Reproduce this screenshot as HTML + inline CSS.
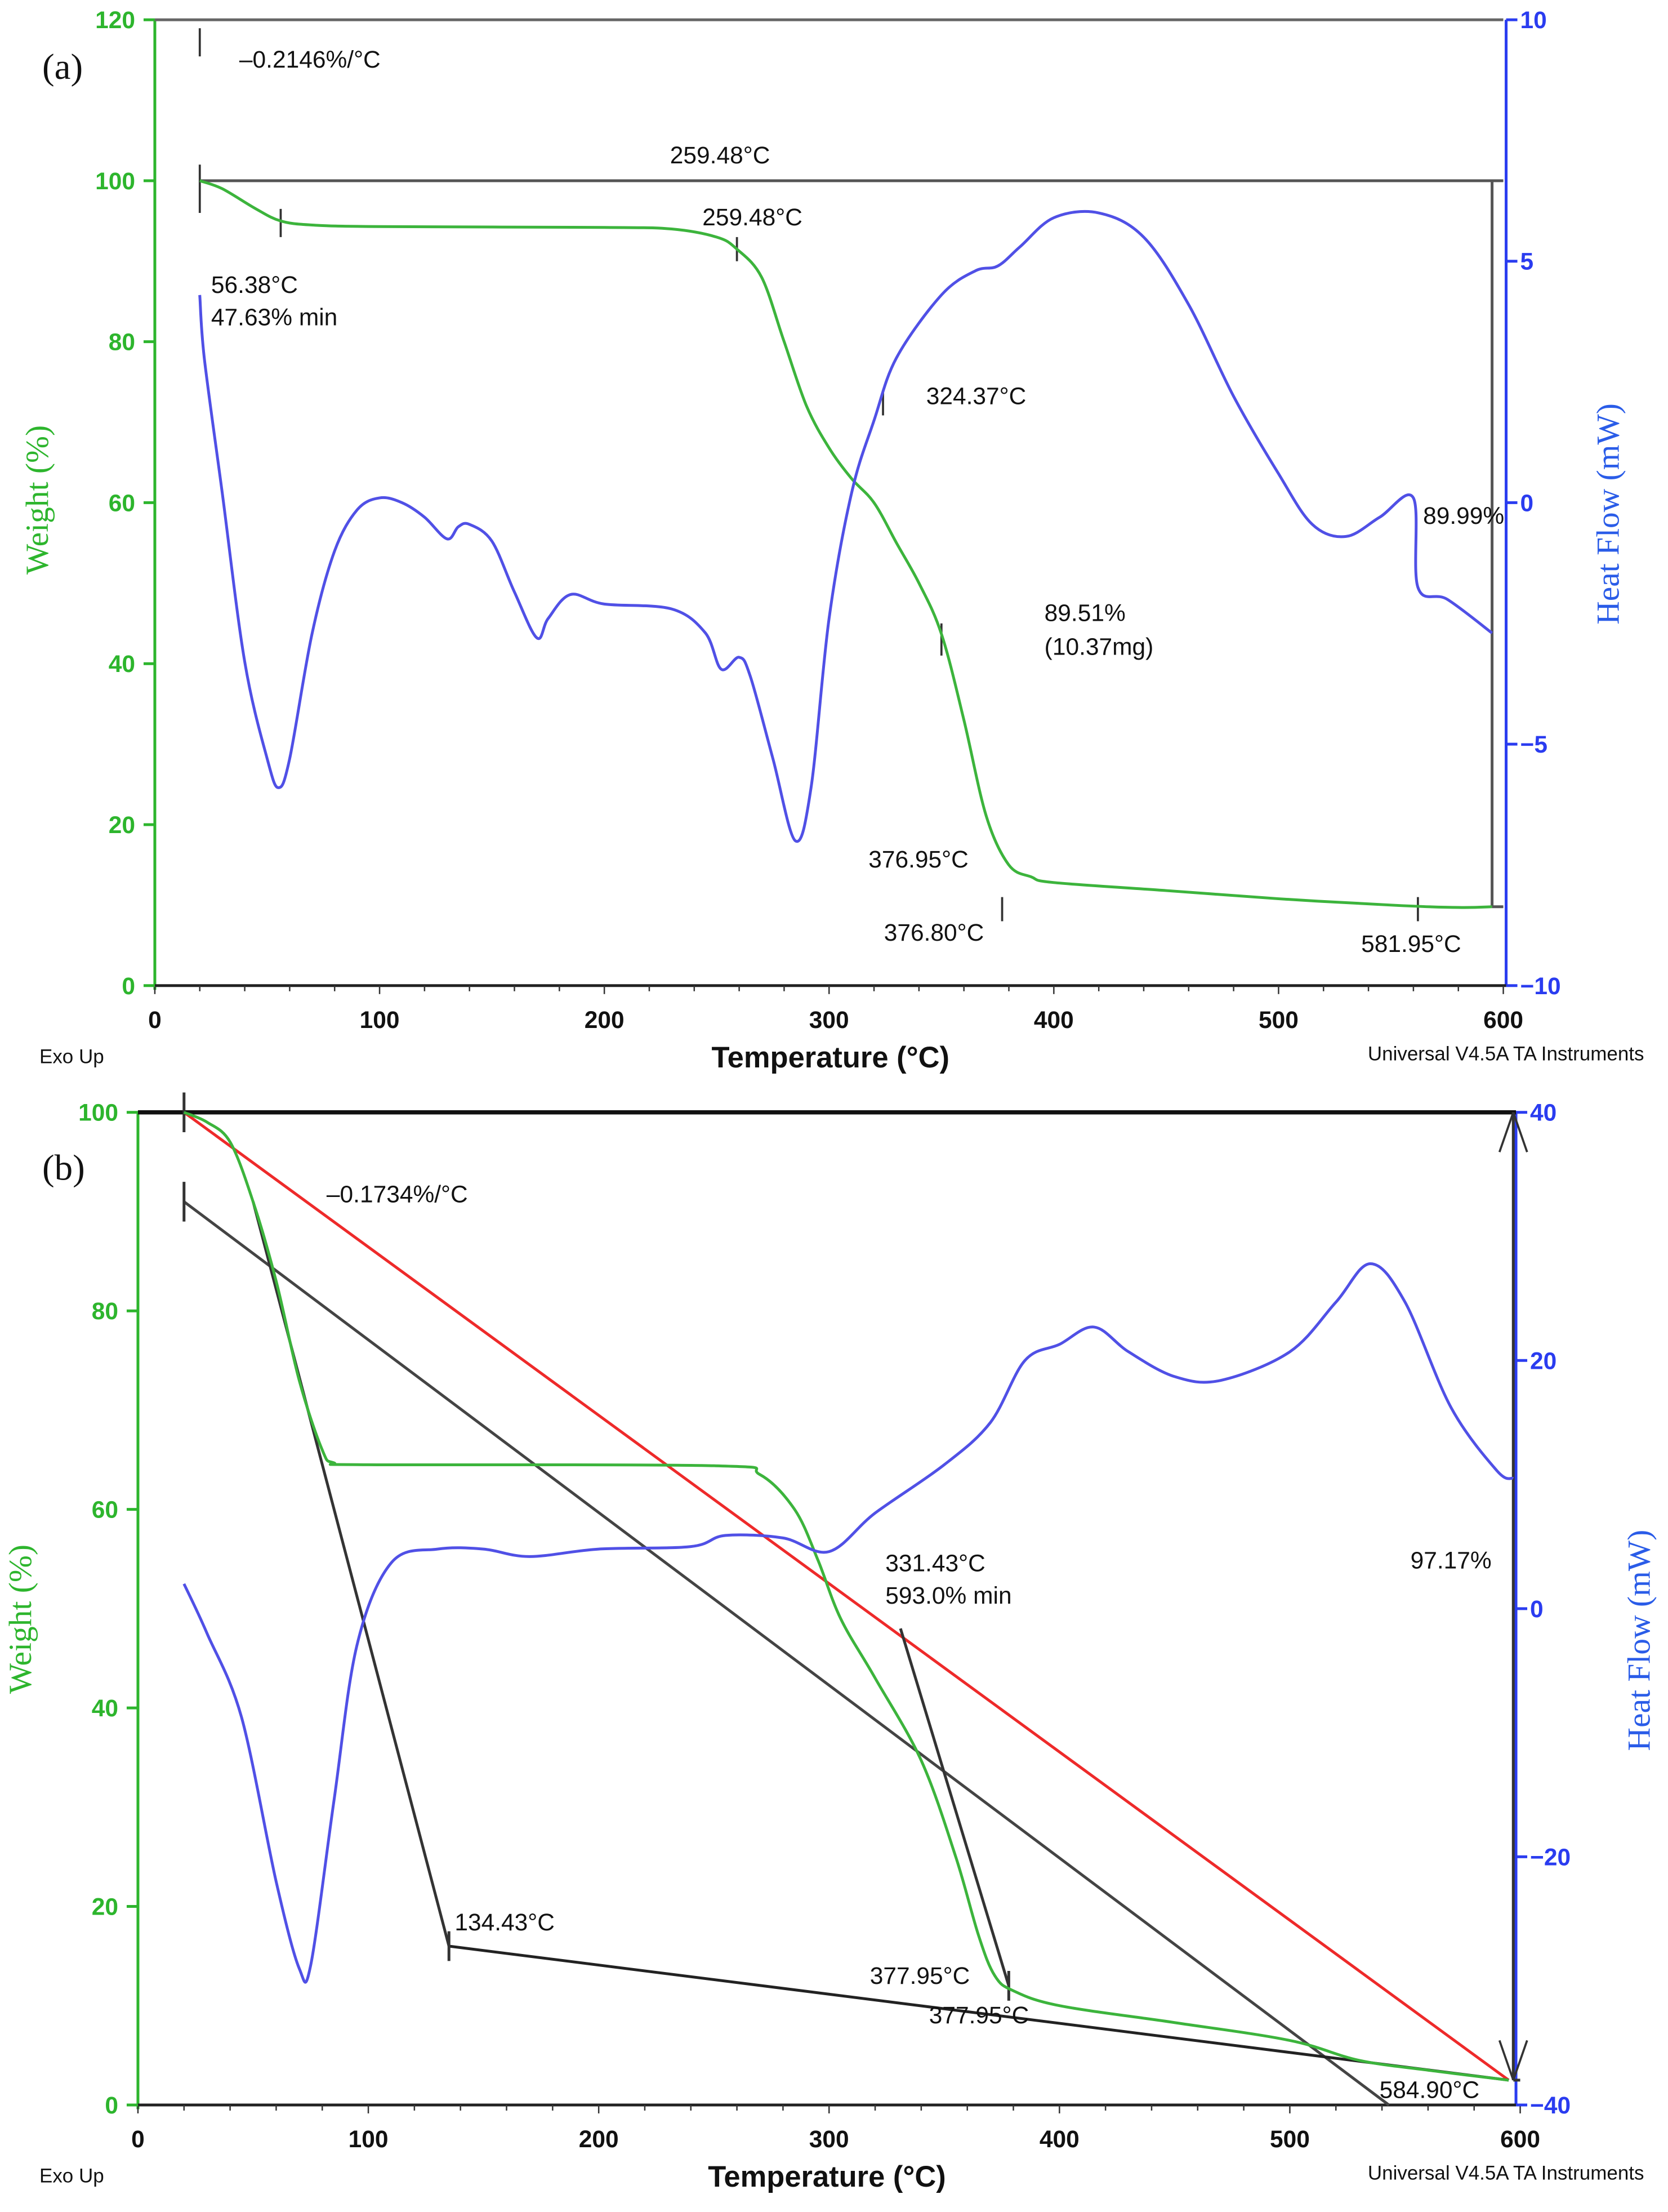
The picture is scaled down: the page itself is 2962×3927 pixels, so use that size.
<!DOCTYPE html>
<html><head><meta charset="utf-8"><style>
html,body{margin:0;padding:0;background:#fff;}
svg{display:block;}
text{font-family:"Liberation Sans",sans-serif;}
.ann{font-size:17px;fill:#111;}
.tl{font-size:17px;font-weight:bold;}
.ser{font-family:"Liberation Serif",serif;}
</style></head><body>
<svg id="fig" width="2962" height="3927" viewBox="0 0 1185 1571" xmlns="http://www.w3.org/2000/svg">
<g id="pa"></g>
<g id="pb"></g>
</svg>
<script>
// ---------- Panel (a) data ----------
const aWeightT = [20,30,45,56,70,100,200,230,250,259,270,280,290,300,310,320,330,340,350,360,370,380,390,400,450,500,550,580,595];
const aWeightW = [100,99,96.5,95,94.5,94.3,94.2,94,93,91.5,88,80,72,66.8,63,60,55,50,43.7,33,21,15,13.5,12.8,11.8,10.8,10,9.7,9.8];
const aHeatT = [20,22,30,40,50,55,60,70,80,90,100,110,120,130,135,140,150,160,170,175,185,200,230,245,252,260,265,275,285,292,300,310,320,330,350,365,375,385,400,420,440,460,480,500,515,530,545,560,562,575,595];
const aHeatH = [4.3,3,0.2,-3.3,-5.3,-5.9,-5.3,-2.7,-1,-0.15,0.1,0,-0.3,-0.75,-0.5,-0.45,-0.8,-1.85,-2.8,-2.4,-1.9,-2.1,-2.2,-2.7,-3.45,-3.2,-3.6,-5.3,-7,-5.9,-2.4,0.2,1.7,3,4.3,4.8,4.9,5.3,5.9,6,5.5,4.1,2.2,0.6,-0.45,-0.7,-0.3,0.1,-1.75,-2,-2.7];
const aXTicks = [0,100,200,300,400,500,600];
const aYTicks = [0,20,40,60,80,100,120];
const aY2Ticks = [-10,-5,0,5,10];
// ---------- Panel (b) data ----------
const bWeightT = [20,30,40,50,60,70,80,85,100,250,270,285,295,305,320,340,355,365,372,380,400,450,500,530,560,595];
const bWeightW = [100,99,97,91,83,73,66,64.7,64.5,64.4,63.5,60,55,49,43,34.7,25,17,13,11.5,10,8.3,6.5,4.5,3.5,2.5];
const bHeatT = [20,30,45,60,70,75,85,95,110,130,150,170,200,240,255,280,300,320,350,370,385,400,415,430,450,470,500,520,535,550,570,590,597];
const bHeatH = [2,-2,-8.8,-22,-29,-28.7,-15.6,-3,3.7,4.8,4.8,4.2,4.8,5,5.9,5.7,4.6,7.7,11.6,15,20,21.3,22.7,20.7,18.7,18.4,20.7,24.7,27.8,24.7,16.2,11.1,10.5];
const bXTicks = [0,100,200,300,400,500,600];
const bYTicks = [0,20,40,60,80,100];
const bY2Ticks = [-40,-20,0,20,40];

const NS="http://www.w3.org/2000/svg";
function mk(parent,tag,attrs,txt){const e=document.createElementNS(NS,tag);for(const k in attrs)e.setAttribute(k,attrs[k]);if(txt!==undefined)e.textContent=txt;parent.appendChild(e);return e;}
function smoothPath(xs,ys){let d="M"+xs[0].toFixed(1)+","+ys[0].toFixed(1);
 for(let i=0;i<xs.length-1;i++){const x0=xs[Math.max(i-1,0)],y0=ys[Math.max(i-1,0)],x1=xs[i],y1=ys[i],x2=xs[i+1],y2=ys[i+1],x3=xs[Math.min(i+2,xs.length-1)],y3=ys[Math.min(i+2,xs.length-1)];
 d+=" C"+(x1+(x2-x0)/6).toFixed(1)+","+(y1+(y2-y0)/6).toFixed(1)+" "+(x2-(x3-x1)/6).toFixed(1)+","+(y2-(y3-y1)/6).toFixed(1)+" "+x2.toFixed(1)+","+y2.toFixed(1);}
 return d;}

function panel(g,cfg){
 const X=t=>cfg.x0+t*(cfg.x1-cfg.x0)/600;
 const Y=w=>cfg.y0-(w-cfg.wmin)*(cfg.y0-cfg.y1)/(cfg.wmax-cfg.wmin);
 const Y2=h=>cfg.y0-(h-cfg.hmin)*(cfg.y0-cfg.y1)/(cfg.hmax-cfg.hmin);
 // axes
 let e;
 e=mk(g,"line",{x1:cfg.x0,y1:cfg.y1,x2:cfg.x0,y2:cfg.y0+3,stroke:"#2db52d","stroke-width":2});
 
 
 e=mk(g,"line",{x1:cfg.xr,y1:cfg.y1,x2:cfg.xr,y2:cfg.y0,stroke:"#2a3cf0","stroke-width":2});
 
 
 e=mk(g,"line",{x1:cfg.x0,y1:cfg.y0,x2:cfg.xr,y2:cfg.y0,stroke:"#222","stroke-width":2});
 
 
 for(let t=0;t<=600;t+=20){e=mk(g,"line",{x1:X(t),y1:cfg.y0,x2:X(t),y2:cfg.y0+(t%100===0?6:4),stroke:"#333","stroke-width":1});
  
  }
 cfg.xt.forEach(t=>{e=mk(g,"text",{x:X(t),y:cfg.y0+30,"text-anchor":"middle",class:"tl",fill:"#111"},String(t));
  
  });
 cfg.yt.forEach(w=>{e=mk(g,"text",{x:cfg.x0-14,y:Y(w)+6,"text-anchor":"end",class:"tl",fill:"#2db52d"},String(w));
  
  
  e=mk(g,"line",{x1:cfg.x0-8,y1:Y(w),x2:cfg.x0,y2:Y(w),stroke:"#2db52d","stroke-width":2});
  
  });
 cfg.y2t.forEach(h=>{e=mk(g,"text",{x:cfg.xr+10,y:Y2(h)+6,"text-anchor":"start",class:"tl",fill:"#2a3cf0"},(h<0?"\u2212":"")+Math.abs(h));
  
  
  e=mk(g,"line",{x1:cfg.xr,y1:Y2(h),x2:cfg.xr+8,y2:Y2(h),stroke:"#2a3cf0","stroke-width":2});
  
  });
 // titles
 e=mk(g,"text",{x:(cfg.x0+cfg.xr)/2,y:cfg.y0+58,"text-anchor":"middle","font-size":21,"font-weight":"bold",fill:"#111"},"Temperature (°C)");
 
 
 e=mk(g,"text",{x:0,y:0,"text-anchor":"middle","font-size":23,class:"ser",fill:"#2db52d",transform:`translate(${cfg.wtx},${cfg.wty}) rotate(-90)`},"Weight (%)");
 
 
 e=mk(g,"text",{x:0,y:0,"text-anchor":"middle","font-size":23,class:"ser",fill:"#2a5ce8",transform:`translate(${cfg.htx},${cfg.hty}) rotate(-90)`},"Heat Flow (mW)");
 
 
 e=mk(g,"text",{x:28,y:cfg.y0+55,"font-size":14,fill:"#111"},"Exo Up");
 
 
 e=mk(g,"text",{x:1168,y:cfg.y0+53,"text-anchor":"end","font-size":14,fill:"#111"},"Universal V4.5A TA Instruments");
 
 
 e=mk(g,"text",{x:30,y:cfg.lab,"font-size":26,class:"ser",fill:"#111"},cfg.name);
 
 
 cfg.extra(X,Y,Y2);
 // series
 e=mk(g,"path",{d:smoothPath(cfg.wt.map(X),cfg.ww.map(Y)),fill:"none",stroke:"#3cb43c","stroke-width":2});
 
 
 e=mk(g,"path",{d:smoothPath(cfg.ht.map(X),cfg.hh.map(Y2)),fill:"none",stroke:"#5050e6","stroke-width":2});
 
 
 cfg.anns.forEach(a=>{e=mk(g,"text",{x:a[0],y:a[1],class:"ann"},a[2]);
  
  });
}
function ln(g,x1,y1,x2,y2,c,w,name){const e=mk(g,"line",{x1,y1,x2,y2,stroke:c,"stroke-width":w});
 
 }

const ga=document.getElementById("pa");
panel(ga,{x0:110,x1:1068,xr:1070,y0:700,y1:14,wmin:0,wmax:120,hmin:-10,hmax:10,xt:aXTicks,yt:aYTicks,y2t:aY2Ticks,
 wt:aWeightT,ww:aWeightW,ht:aHeatT,hh:aHeatH,wtx:34,wty:355,htx:1150,hty:365,lab:56,name:"(a)",
 extra:(X,Y,Y2)=>{
  ln(ga,110,14,1068,14,"#666",2,"top-border-line");
  ln(ga,X(20),Y(100),X(600),Y(100),"#555",2,"reference-line-100");
  ln(ga,X(595),Y(100),X(595),Y(9.8),"#555",2,"step-vertical-line");
  ln(ga,X(595),Y(9.8),X(600),Y(9.8),"#555",2,"step-end-line");
  ln(ga,X(20),Y(96),X(20),Y(102),"#333",1.5,"marker-tick");
  ln(ga,X(20),20,X(20),40,"#333",1.5,"marker-tick");
  ln(ga,X(56),Y(93),X(56),Y(96.5),"#333",1.5,"marker-tick");
  ln(ga,X(259),Y(90),X(259),Y(93),"#333",1.5,"marker-tick");
  ln(ga,X(324),277,X(324),295,"#333",1.5,"marker-tick");
  ln(ga,X(350),Y(41),X(350),Y(45),"#333",1.5,"marker-tick");
  ln(ga,X(377),Y(8),X(377),Y(11),"#333",1.5,"marker-tick");
  ln(ga,X(562),Y(8),X(562),Y(11),"#333",1.5,"marker-tick");
 },
 anns:[[170,48,"\u20130.2146%/°C"],[476,116,"259.48°C"],[499,160,"259.48°C"],[150,208,"56.38°C"],[150,231,"47.63% min"],[658,287,"324.37°C"],[1011,372,"89.99%"],[742,441,"89.51%"],[742,465,"(10.37mg)"],[617,616,"376.95°C"],[628,668,"376.80°C"],[967,676,"581.95°C"]]});

const gb=document.getElementById("pb");
panel(gb,{x0:98,x1:1080,xr:1077,y0:1495,y1:790,wmin:0,wmax:100,hmin:-40,hmax:40,xt:bXTicks,yt:bYTicks,y2t:bY2Ticks,
 wt:bWeightT,ww:bWeightW,ht:bHeatT,hh:bHeatH,wtx:22,wty:1150,htx:1172,hty:1165,lab:838,name:"(b)",
 extra:(X,Y,Y2)=>{
  ln(gb,98,790,1077,790,"#111",3,"reference-line-100");
  ln(gb,X(20),Y(100),X(595),Y(2.5),"#ee2a2a",2,"red-slope-line");
  ln(gb,X(20),Y(91),X(543),Y(0),"#444",2,"tangent-line-1");
  ln(gb,X(50),Y(91),X(135),Y(16),"#333",2,"tangent-line-2");
  ln(gb,X(135),Y(16),X(595),Y(2.5),"#222",2,"baseline-tangent");
  ln(gb,X(331),Y(48),X(378),Y(12),"#333",2,"tangent-line-3");
  ln(gb,X(597),Y(100),X(597),Y(2.5),"#333",2,"arrow-vertical");
  ln(gb,X(597),Y(2.5),X(600),Y(2.5),"#333",2,"step-end-line");
  ln(gb,X(20),Y(98),X(20),Y(102),"#333",2,"marker-tick");
  ln(gb,X(20),Y(89),X(20),Y(93),"#333",2,"marker-tick");
  ln(gb,X(135),Y(14.5),X(135),Y(17.5),"#333",2,"marker-tick");
  ln(gb,X(378),Y(10.5),X(378),Y(13.5),"#333",2,"marker-tick");
  ln(gb,X(591),Y(96),X(597),Y(100),"#333",1.5,"arrow-head");
  ln(gb,X(603),Y(96),X(597),Y(100),"#333",1.5,"arrow-head");
  ln(gb,X(591),Y(6.5),X(597),Y(2.5),"#333",1.5,"arrow-head");
  ln(gb,X(603),Y(6.5),X(597),Y(2.5),"#333",1.5,"arrow-head");
 },
 anns:[[232,854,"\u20130.1734%/°C"],[629,1116,"331.43°C"],[629,1139,"593.0% min"],[323,1371,"134.43°C"],[618,1409,"377.95°C"],[660,1437,"377.95°C"],[980,1490,"584.90°C"],[1002,1114,"97.17%"]]});
</script>
</body></html>
